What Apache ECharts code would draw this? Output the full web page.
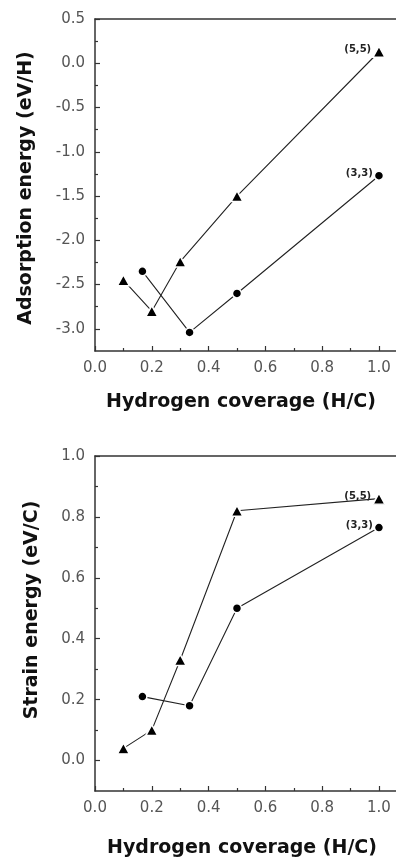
<!DOCTYPE html>
<html>
<head>
<meta charset="utf-8">
<script src="https://cdn.jsdelivr.net/npm/echarts@6/dist/echarts.min.js"></script>
<style>html,body{margin:0;padding:0;background:#fff}#c{width:396px;height:858px}</style>
</head>
<body>
<div id="c"></div>
<script>
// Data
const xCov55 = [0.1, 0.2, 0.3, 0.5, 1.0];
const xCov33 = [0.167, 0.333, 0.5, 1.0];
const ads55 = [-2.45, -2.80, -2.24, -1.50, 0.13];
const ads33 = [-2.35, -3.04, -2.60, -1.27];
const strain55 = [0.04, 0.10, 0.33, 0.82, 0.86];
const strain33 = [0.21, 0.18, 0.50, 0.765];
const seriesNames = ['(5,5)', '(3,3)'];
const xTicks = [0, 0.2, 0.4, 0.6, 0.8, 1.0];
const xMinor = [0.1, 0.3, 0.5, 0.7, 0.9];
const adsTicks = [0.5, 0, -0.5, -1.0, -1.5, -2.0, -2.5, -3.0];
const adsMinor = [0.25, -0.25, -0.75, -1.25, -1.75, -2.25, -2.75];
const strainTicks = [0, 0.2, 0.4, 0.6, 0.8, 1.0];
const strainMinor = [0.1, 0.3, 0.5, 0.7, 0.9];
const xTitle = 'Hydrogen coverage (H/C)';
const yTitles = ['Adsorption energy (eV/H)', 'Strain energy (eV/C)'];

const axisColor = '#333';
const labelStyle = {color: '#555', fontSize: 15, fontFamily: 'DejaVu Sans'};
const fmt = v => v.toFixed(1);

function pairs(xs, ys){ return xs.map((x,i)=>[x, ys[i]]); }

const grids = [
  {left: 95, right: 0, top: 19, height: 332},
  {left: 95, right: 0, top: 456, height: 335}
];

const xAxes = [], yAxes = [], series = [];
const yConf = [
  {min: -3.25, max: 0.5, ticks: adsTicks, minor: adsMinor, d55: ads55, d33: ads33},
  {min: -0.1, max: 1.0, ticks: strainTicks, minor: strainMinor, d55: strain55, d33: strain33}
];

yConf.forEach((c, g) => {
  const base = xAxes.length;
  // main x axis
  xAxes.push({type:'value', gridIndex:g, min:0, max:1.06, position:'bottom',
    axisLine:{show:true, onZero:false, lineStyle:{color:axisColor, width:1.5}},
    axisTick:{show:true, inside:true, length:5, customValues:xTicks, lineStyle:{color:axisColor, width:1.2}},
    axisLabel:{show:true, customValues:xTicks, formatter:fmt, margin:10, ...labelStyle},
    splitLine:{show:false}});
  // minor x ticks
  xAxes.push({type:'value', gridIndex:g, min:0, max:1.06, position:'bottom',
    axisLine:{show:false, onZero:false},
    axisTick:{show:true, inside:true, length:3, customValues:xMinor, lineStyle:{color:axisColor, width:1.2}},
    axisLabel:{show:false}, splitLine:{show:false}});
  // top frame line
  xAxes.push({type:'value', gridIndex:g, min:0, max:1.06, position:'top',
    axisLine:{show:true, onZero:false, lineStyle:{color:axisColor, width:1.5}},
    axisTick:{show:false}, axisLabel:{show:false}, splitLine:{show:false}});
  const yb = yAxes.length;
  yAxes.push({type:'value', gridIndex:g, min:c.min, max:c.max, position:'left',
    axisLine:{show:true, onZero:false, lineStyle:{color:axisColor, width:1.5}},
    axisTick:{show:true, inside:true, length:5, customValues:c.ticks, lineStyle:{color:axisColor, width:1.2}},
    axisLabel:{show:true, customValues:c.ticks, formatter:fmt, margin:10, ...labelStyle},
    splitLine:{show:false}});
  yAxes.push({type:'value', gridIndex:g, min:c.min, max:c.max, position:'left',
    axisLine:{show:false, onZero:false},
    axisTick:{show:true, inside:true, length:3, customValues:c.minor, lineStyle:{color:axisColor, width:1.2}},
    axisLabel:{show:false}, splitLine:{show:false}});

  const mk = (name, xs, ys, symbol, size) => {
    const data = pairs(xs, ys).map((p, i, arr) => i === arr.length - 1 ? {
      value: p,
      label: {show:true, position:'left', distance:1, offset:[0,-2], formatter:name,
        color:'#222', fontSize:10, fontWeight:'bold', fontFamily:'DejaVu Sans'}
    } : {value: p});
    return {type:'line', name, xAxisIndex: base, yAxisIndex: yb, data,
      symbol, symbolSize:size, showSymbol:true,
      itemStyle:{color:'#000', borderColor:'#fff', borderWidth:1.5},
      lineStyle:{color:'#222', width:1.1},
      animation:false, z:3};
  };
  series.push(mk(seriesNames[0], xCov55, c.d55, 'triangle', [12, 11]));
  series.push(mk(seriesNames[1], xCov33, c.d33, 'circle', 9));
});

const titleFont = 'bold 19px "DejaVu Sans"';
const graphic = [
  {type:'text', x:241, y:402, style:{text:xTitle, font:titleFont, fill:'#111', align:'center', verticalAlign:'middle'}},
  {type:'text', x:242, y:848, style:{text:xTitle, font:titleFont, fill:'#111', align:'center', verticalAlign:'middle'}},
  {type:'text', x:26, y:188, rotation:Math.PI/2, style:{text:yTitles[0], font:titleFont, fill:'#111', align:'center', verticalAlign:'middle'}},
  {type:'text', x:32, y:610, rotation:Math.PI/2, style:{text:yTitles[1], font:titleFont, fill:'#111', align:'center', verticalAlign:'middle'}}
];

const chart = echarts.init(document.getElementById('c'), null, {renderer:'canvas'});
chart.setOption({
  animation:false,
  backgroundColor:'#fff',
  grid: grids,
  xAxis: xAxes,
  yAxis: yAxes,
  series,
  graphic
});
</script>
</body>
</html>
